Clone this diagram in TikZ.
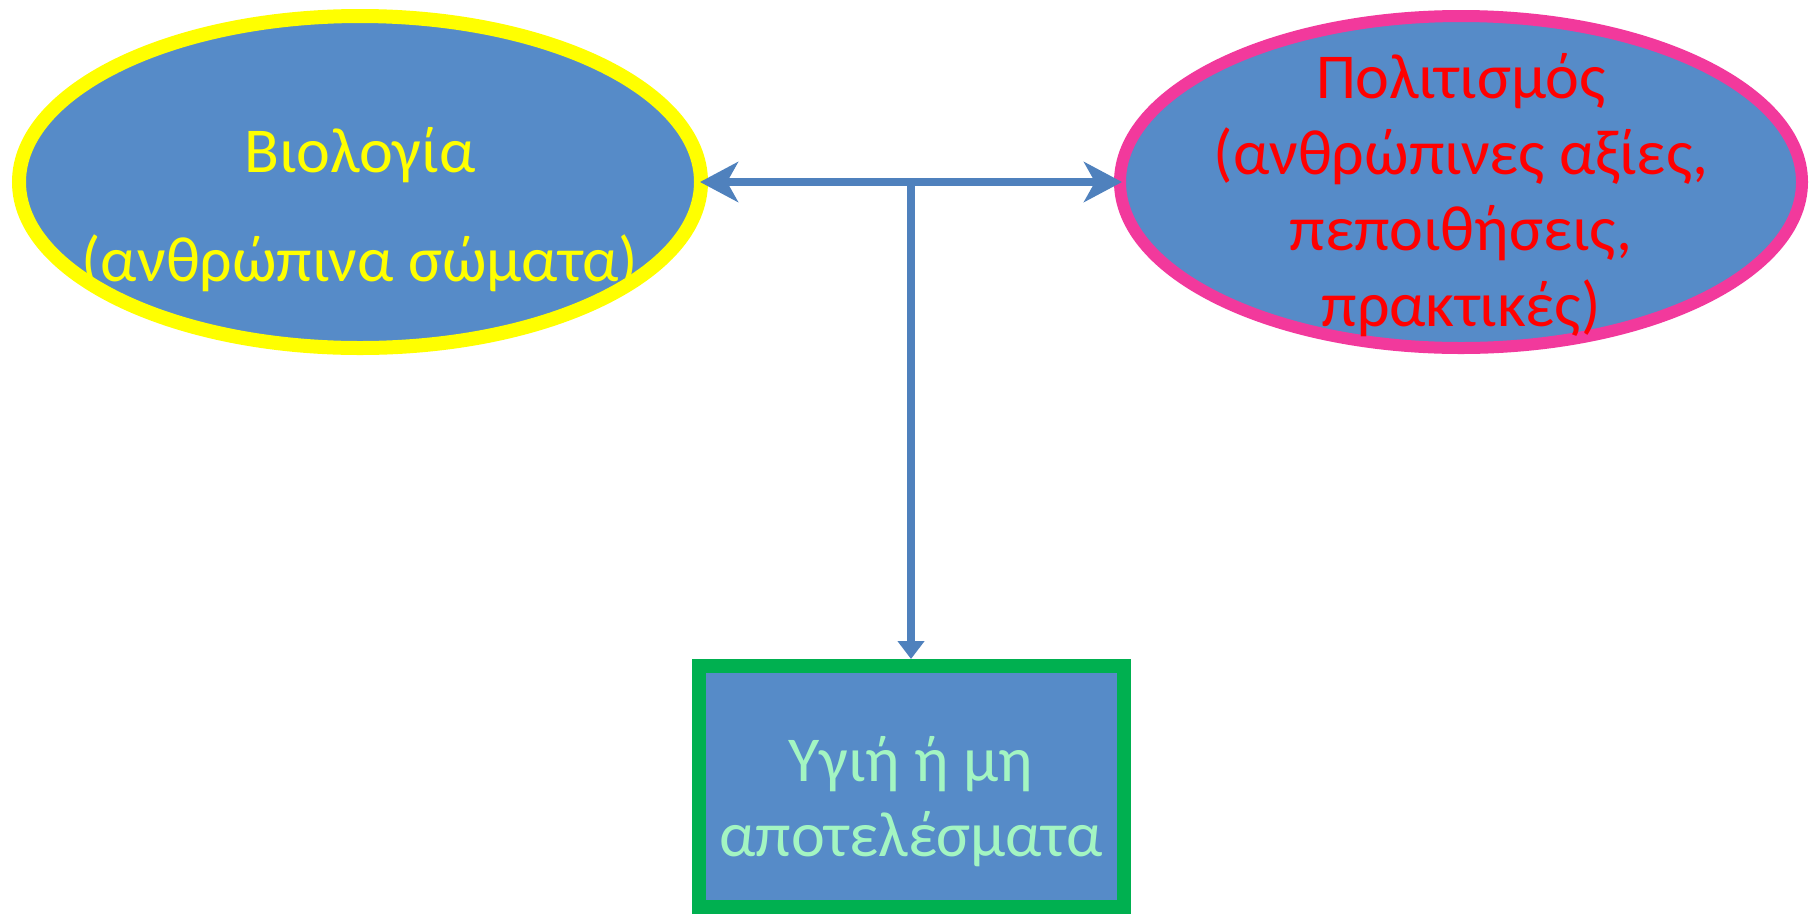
\documentclass[tikz,border=0pt]{standalone}
\usepackage{fontspec}
\setmainfont{Carlito}
\usetikzlibrary{arrows.meta,calc,positioning,shadows,shapes.geometric}
\definecolor{shapefill}{HTML}{568BC8}
\definecolor{linkblue}{HTML}{4F81BD}
\definecolor{bioyellow}{HTML}{FFFF00}
\definecolor{biotext}{HTML}{FFFF00}
\definecolor{cultpink}{HTML}{F2399C}
\definecolor{culttext}{HTML}{FF0000}
\definecolor{resgreen}{HTML}{00B050}
\definecolor{restext}{HTML}{A3F5C2}
\newcommand{\lift}[1]{\rule{0pt}{#1}}
\tikzset{
  topic/.style={
    ellipse,
    fill=shapefill,
    line width=14pt,
    minimum width=682pt,
    minimum height=332pt,
    inner sep=-150pt,
    align=center,
    drop shadow={opacity=0.3,shadow xshift=3pt,shadow yshift=-4pt}
  },
  biotopic/.style={
    topic,
    draw=bioyellow,
    text=biotext,
    font=\fontsize{64}{109}\selectfont
  },
  culttopic/.style={
    topic,
    draw=cultpink,
    line width=12pt,
    text=culttext,
    font=\fontsize{64}{76}\selectfont
  },
  outcome/.style={
    rectangle,
    draw=resgreen,
    fill=shapefill,
    line width=14pt,
    minimum width=425pt,
    minimum height=241pt,
    inner sep=-100pt,
    align=center,
    text=restext,
    font=\fontsize{64}{75}\selectfont,
    drop shadow={opacity=0.3,shadow xshift=3pt,shadow yshift=-4pt}
  },
  twolink/.style={
    {Stealth[length=38pt,width=40pt,inset=11pt]}-{Stealth[length=38pt,width=40pt,inset=11pt]},
    line width=8pt,
    draw=linkblue,
    shorten <=-8pt,
    shorten >=-8pt
  },
  droplink/.style={
    -{Triangle[length=18pt,width=26pt]},
    line width=8pt,
    draw=linkblue
  }
}
\begin{document}
\begin{tikzpicture}[x=1pt,y=-1pt]

  \fill[white] (0,0) rectangle (1814,914);
  \useasboundingbox (0,0) rectangle (1814,914);

  \node[biotopic] (bio) at (360,182) {
    \lift{100pt}Βιολογία\\
    (ανθρώπινα σώματα)
  };

  \node[culttopic, right=406pt of bio] (cult) {
    \lift{72pt}Πολιτισμός\\
    (ανθρώπινες αξίες,\\
    πεποιθήσεις,\\
    πρακτικές)
  };

  \coordinate (junc) at ($(bio.east)!0.5!(cult.west)$);

  \node[outcome, below=477pt of junc] (res) {
    \lift{76pt}Υγιή ή μη\\
    αποτελέσματα
  };

  \draw[twolink] (bio.east) -- (cult.west);
  \draw[droplink] (junc) -- (res.north);
\end{tikzpicture}
\end{document}
